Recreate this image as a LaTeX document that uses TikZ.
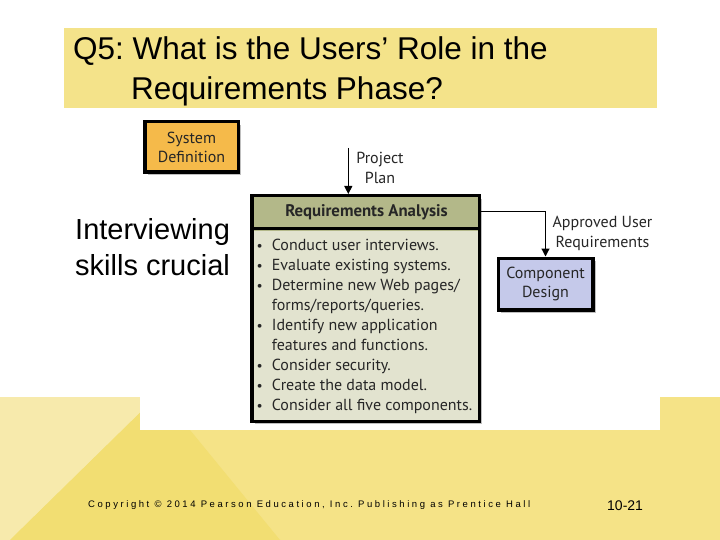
\documentclass[tikz,border=0pt]{standalone}
\usepackage{fontspec}
\setmainfont{Liberation Sans}
\newfontfamily\diag{PT Sans}
\newfontfamily\spaced[LetterSpace=27]{Liberation Sans}
\usetikzlibrary{arrows.meta,shadows}
\definecolor{bandY}{HTML}{F5E387}
\definecolor{paleY}{HTML}{F7EAAC}
\definecolor{darkY}{HTML}{F2DE72}
\definecolor{hdrY}{HTML}{F4E38A}
\definecolor{sysO}{HTML}{F5BA4A}
\definecolor{cdB}{HTML}{C5C9EA}
\definecolor{raH}{HTML}{B3B889}
\definecolor{raB}{HTML}{E2E3CF}
\definecolor{dtext}{HTML}{262626}
\frenchspacing
\tikzset{
  boxstyle/.style={draw=black, line width=3.5pt, inner sep=0pt, align=center,
    font=\diag\fontsize{16}{19}\selectfont, text=dtext,
    drop shadow={shadow xshift=3pt, shadow yshift=-3pt, fill=black!25, opacity=1}},
  lbl/.style={align=center, font=\diag\fontsize{16}{20}\selectfont, text=dtext, inner sep=0pt},
  arr/.style={line width=1.2pt, -{Triangle[width=8pt,length=8pt]}},
  bigtxt/.style={anchor=base west, inner sep=0pt, text=black},
  bul/.style={}
}
\newcommand{\bl}{\makebox[15.2pt][l]{\scalebox{0.85}{\textbullet}}}
\newcommand{\nb}{\hspace*{15.2pt}}
\begin{document}
\begin{tikzpicture}[x=1pt,y=-1pt]
\useasboundingbox (0,0) rectangle (720,540);
\fill[white] (0,0) rectangle (720,540);
% bottom band
\fill[bandY] (0,397) rectangle (720,540);
\fill[paleY] (0,397) -- (156,397) -- (10,540) -- (0,540) -- cycle;
\fill[darkY] (156,397) -- (163,397) -- (280,540) -- (10,540) -- cycle;
% white picture area
\fill[white] (140,110) rectangle (660,430);
% header
\fill[hdrY] (64,28) rectangle (657,108);
\node[bigtxt, font=\fontsize{31.5}{38}\selectfont] (t1) at (73,60) {Q5: What is the Users’ Role in the};
\node[bigtxt, font=\fontsize{31.5}{38}\selectfont] (t2) at (131,100) {Requirements Phase?};
% side text
\node[bigtxt, font=\fontsize{29}{35}\selectfont] (s1) at (75,240) {Interviewing};
\node[bigtxt, font=\fontsize{29}{35}\selectfont] (s2) at (75,275) {skills crucial};
% boxes
\node[boxstyle, fill=sysO, minimum width=93.5pt, minimum height=50.5pt] (sd) at (191.5,147) {System\\Definition};
\node[boxstyle, fill=raB, minimum width=227.5pt, minimum height=225.5pt,
  path picture={\fill[raH] (path picture bounding box.north west) rectangle ([yshift=-35pt]path picture bounding box.north east);}] (ra) at (365.5,308.5) {};
\draw[line width=3pt] ([yshift=-35pt]ra.north west) -- ([yshift=-35pt]ra.north east);
\node[font=\diag\bfseries\fontsize{16.8}{18}\selectfont, text=dtext, inner sep=0pt] (rat) at (366.5,212) {Requirements Analysis};
\node[anchor=north west, align=left, inner sep=0pt, text=dtext, font=\diag\fontsize{16}{20}\selectfont] (ral) at (256.5,238.5)
{\bl Conduct user interviews.\\
\bl Evaluate existing systems.\\
\bl Determine new Web pages/\\
\nb forms/reports/queries.\\
\bl Identify new application\\
\nb features and functions.\\
\bl Consider security.\\
\bl Create the data model.\\
\bl Consider all five components.};
\node[boxstyle, fill=cdB, minimum width=94.5pt, minimum height=51.5pt] (cd) at (545.5,284) {Component\\Design};
% connectors
\coordinate (pp) at (348.3,148);
\draw[arr] (pp) -- (pp |- ra.north);
\node[lbl] (ppl) at (380,168) {Project\\Plan};
\draw[arr] ([yshift=-17.5pt]ra.north east) -| (cd.north);
\node[lbl] (aul) at (602.5,233) {Approved User\\Requirements};
% footer
\node[anchor=base west, inner sep=0pt, font=\spaced\fontsize{9.5}{11}\selectfont] (copy) at (88,507) {Copyright © 2014 Pearson Education, Inc. Publishing as Prentice Hall};
\node[anchor=base west, inner sep=0pt, font=\fontsize{14}{16}\selectfont] (pg) at (607,510) {10-21};
\end{tikzpicture}
\end{document}
